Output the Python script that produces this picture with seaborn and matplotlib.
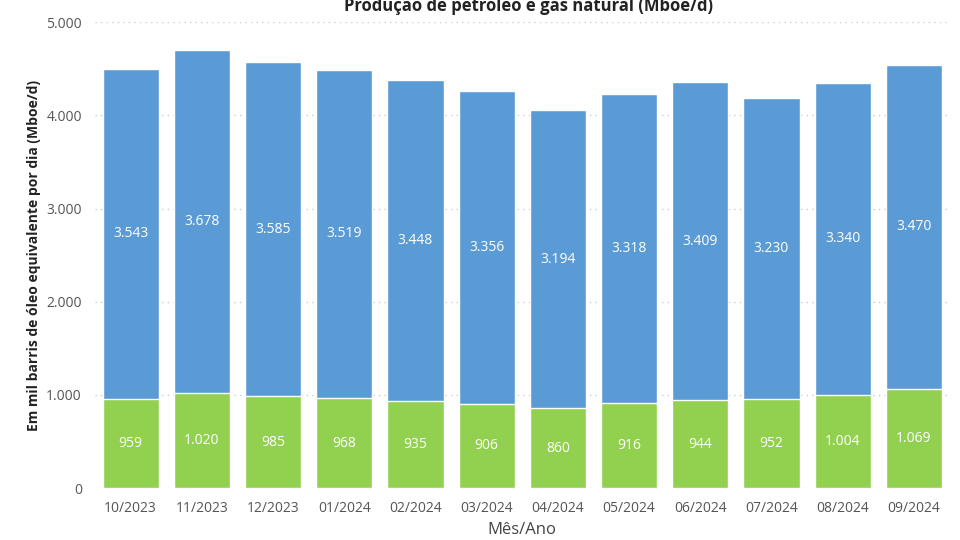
import matplotlib
matplotlib.use("Agg")
import matplotlib.pyplot as plt
import seaborn as sns
import pandas as pd
from matplotlib.ticker import FuncFormatter

months = ["10/2023","11/2023","12/2023","01/2024","02/2024","03/2024","04/2024","05/2024","06/2024","07/2024","08/2024","09/2024"]
oil = [3543,3678,3585,3519,3448,3356,3194,3318,3409,3230,3340,3470]
gas = [959,1020,985,968,935,906,860,916,944,952,1004,1069]

sns.set_theme(style="white")
plt.rcParams['font.family'] = ['Open Sans', 'DejaVu Sans']
fig = plt.figure(figsize=(9.6,5.4), dpi=100)
ax = fig.add_axes([0.099, 0.096, 0.89, 0.863])
total = [o+g for o,g in zip(oil,gas)]
df = pd.DataFrame({"m":months,"total":total,"gas":gas})
sns.barplot(data=df, x="m", y="total", color="#5B9BD5", saturation=1, width=0.79, ax=ax)
sns.barplot(data=df, x="m", y="gas", color="#92D050", saturation=1, width=0.79, ax=ax)
fmt = lambda v: f"{int(v):,}".replace(",", ".")
for i,(o,g) in enumerate(zip(oil,gas)):
    ax.text(i, g/2, fmt(g), ha="center", va="center", color="white", fontsize=10)
    ax.text(i, g+o/2, fmt(o), ha="center", va="center", color="white", fontsize=10)
ax.set_ylim(0,5000)
ax.set_yticks(range(0,5001,1000))
ax.yaxis.set_major_formatter(FuncFormatter(lambda v,p: fmt(v)))
ax.grid(axis="y", linestyle=(0,(1,3)), color="#cccccc")
ax.set_axisbelow(True)
for s in ax.spines.values(): s.set_visible(False)
ax.tick_params(colors="#555555", labelsize=10)
ax.set_xlabel("Mês/Ano", fontsize=12, color="#444444", labelpad=4)
ax.set_ylabel("Em mil barris de óleo equivalente por dia (Mboe/d)", fontsize=10, fontweight="bold", color="#222222")
ax.set_xlim(-0.5, 11.5)
fig.text(0.55, 0.988, "Produção de petróleo e gás natural (Mboe/d)", ha="center", va="center", fontsize=12, fontweight="bold", color="#222222")
fig.savefig("out.png", dpi=100)
